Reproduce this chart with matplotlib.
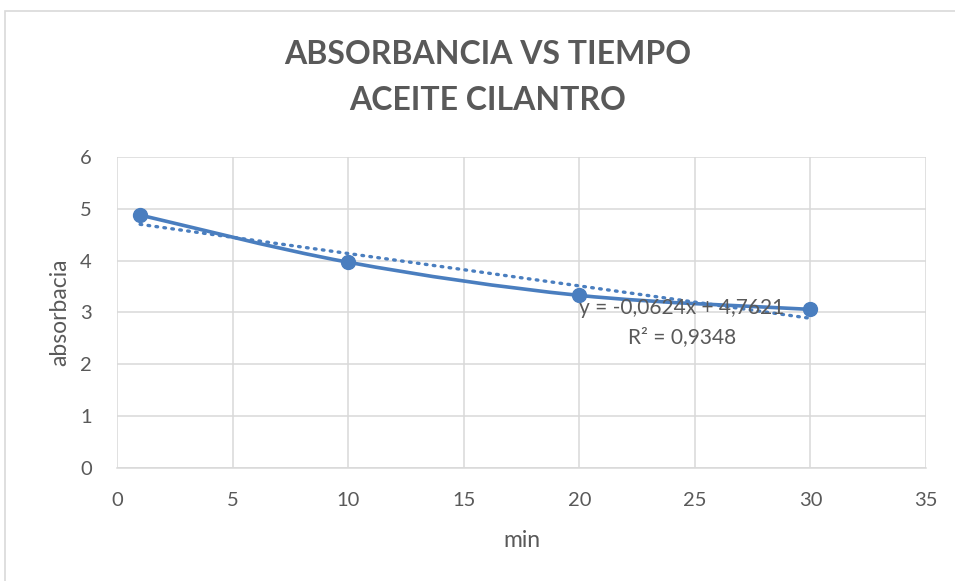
import numpy as np
import matplotlib
matplotlib.use("Agg")
import matplotlib.pyplot as plt
from matplotlib.path import Path
from matplotlib.patches import PathPatch, Rectangle

plt.rcParams["font.family"] = ["Lato", "DejaVu Sans"]

# data
tiempo = [1, 10, 20, 30]
absorbancia = [4.88, 3.97, 3.33, 3.06]
x_ticks = [0, 5, 10, 15, 20, 25, 30, 35]
y_ticks = [0, 1, 2, 3, 4, 5, 6]

BLUE = "#4a7ebf"
GRID = "#d9d9d9"
TEXT = "#595959"


def smooth_path(xs, ys, t=1 / 6):
    # Excel-style smoothed line: cubic Bezier through each point
    pts = np.column_stack([xs, ys]).astype(float)
    verts = [pts[0]]
    codes = [Path.MOVETO]
    n = len(pts)
    for i in range(n - 1):
        p0 = pts[max(i - 1, 0)]
        p1 = pts[i]
        p2 = pts[i + 1]
        p3 = pts[min(i + 2, n - 1)]
        c1 = p1 + (p2 - p0) * t
        c2 = p2 - (p3 - p1) * t
        verts += [c1, c2, p2]
        codes += [Path.CURVE4] * 3
    return Path(verts, codes)


fig = plt.figure(figsize=(9.55, 5.81), dpi=100, facecolor="white")

# chart area frame (cut at right and bottom)
fig.add_artist(Rectangle((5 / 955, -0.1), 1.2, 1 - 11 / 581 + 0.1,
                         transform=fig.transFigure, fill=False,
                         edgecolor="#d9d9d9", lw=1.2))

ax = fig.add_axes([0.1225, 0.1945, 0.8471, 0.5353])
ax.set_xlim(0, 35)
ax.set_ylim(0, 6)
ax.set_xticks(x_ticks)
ax.set_yticks(y_ticks)
ax.grid(True, color=GRID, lw=1.1)
ax.set_axisbelow(True)
for side in ["top", "right", "left"]:
    ax.spines[side].set_visible(False)
ax.spines["bottom"].set_color(GRID)
ax.spines["bottom"].set_linewidth(1.1)
ax.tick_params(length=0, colors=TEXT, labelsize=14.5)
ax.tick_params(axis="x", pad=17)
ax.tick_params(axis="y", pad=18)

# smoothed series line
ax.add_patch(PathPatch(smooth_path(tiempo, absorbancia), facecolor="none",
                       edgecolor=BLUE, lw=2.6, capstyle="round", zorder=3))
ax.plot(tiempo, absorbancia, "o", color=BLUE, ms=10, zorder=4)

# linear trendline
slope, intercept = np.polyfit(tiempo, absorbancia, 1)
xt = np.array([tiempo[0], tiempo[-1]])
ax.plot(xt, slope * xt + intercept, linestyle=(0, (0.5, 1.9)), color=BLUE,
        lw=2.4, dash_capstyle="round", zorder=3)

ax.text(24.45, 3.09, "y = -0,0624x + 4,7621", ha="center", va="center",
        fontsize=15, color=TEXT, zorder=5)
ax.text(24.45, 2.53, "R² = 0,9348", ha="center", va="center",
        fontsize=15, color=TEXT, zorder=5)

ax.set_xlabel("min", fontsize=16.5, color=TEXT, va="center")
ax.xaxis.set_label_coords(0.5, (468 - 541) / 311)
ax.set_ylabel("absorbacia", fontsize=16.5, color=TEXT, va="center")
ax.yaxis.set_label_coords((60 - 117) / 809, 0.5)

fig.text(488 / 955, 1 - 55 / 581, "ABSORBANCIA VS TIEMPO", ha="center",
         va="center", fontsize=23, fontweight="bold", color=TEXT)
fig.text(488 / 955, 1 - 100 / 581, "ACEITE CILANTRO", ha="center",
         va="center", fontsize=23, fontweight="bold", color=TEXT)

fig.savefig("out.png", dpi=100, facecolor="white")
